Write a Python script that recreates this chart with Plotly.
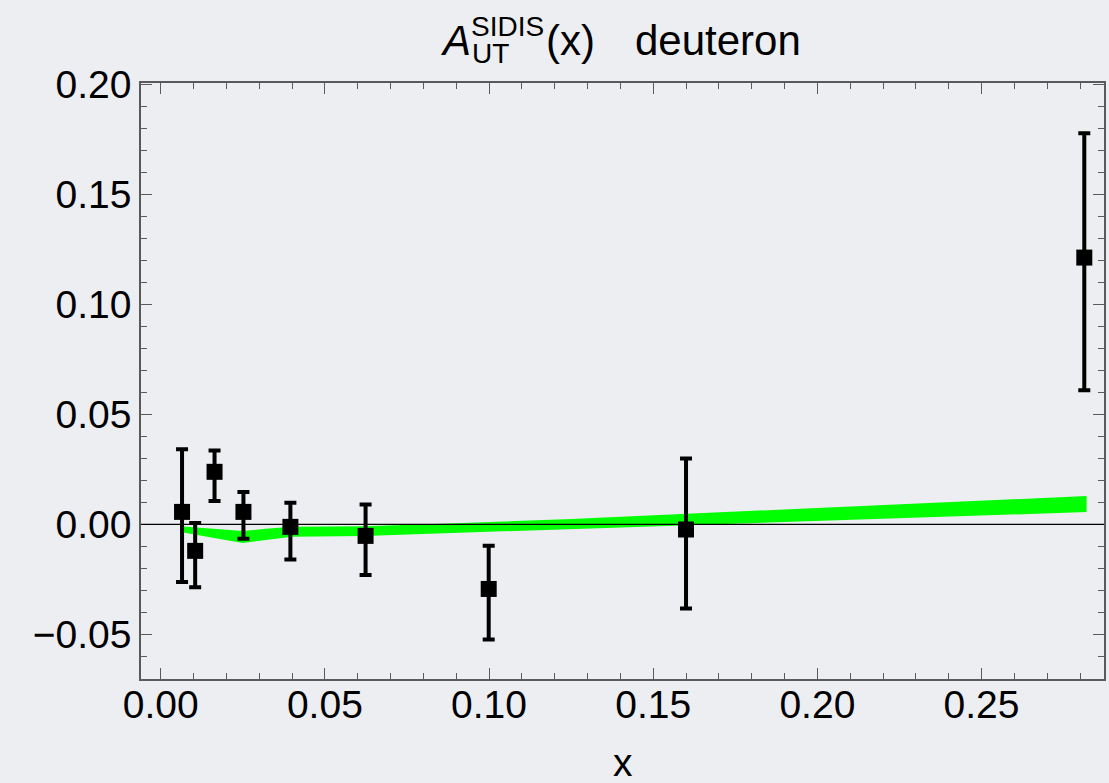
import plotly.graph_objects as go

# ---- data ----
x_data = [0.0065, 0.0105, 0.0164, 0.0252, 0.0395, 0.0624, 0.0999, 0.1600, 0.2813]
y_data = [0.0057, -0.0120, 0.0239, 0.0057, -0.0011, -0.0052, -0.0293, -0.0023, 0.1212]
y_top = [0.0341, 0.0006, 0.0336, 0.0147, 0.0098, 0.0091, -0.0097, 0.0300, 0.1777]
y_bot = [-0.0261, -0.0285, 0.0107, -0.0065, -0.0159, -0.0230, -0.0523, -0.0382, 0.0610]

band_x = [0.006, 0.012, 0.018, 0.025, 0.032, 0.040, 0.062, 0.090, 0.125, 0.160, 0.200, 0.240, 0.282]
band_hi = [-0.0008, -0.0015, -0.0022, -0.0030, -0.0020, -0.0011, -0.0008, 0.0005, 0.0025, 0.0048, 0.0075, 0.0102, 0.0129]
band_lo = [-0.0034, -0.0050, -0.0066, -0.0084, -0.0070, -0.0056, -0.0052, -0.0040, -0.0022, -0.0005, 0.0015, 0.0035, 0.0056]

x_range = [-0.006, 0.2873]
y_range = [-0.0702, 0.2005]

W, H = 1109, 783
L, R, T, B = 141, 3, 83, 104
BG = "#eceef1"
FONT = "Liberation Sans, Arial, Helvetica, sans-serif"
AX = "#5a5a5a"

err_plus = [t - y for t, y in zip(y_top, y_data)]
err_minus = [y - b for y, b in zip(y_data, y_bot)]

fig = go.Figure()

# green band
fig.add_trace(go.Scatter(
    x=band_x + band_x[::-1],
    y=band_hi + band_lo[::-1],
    fill="toself", fillcolor="#00ff00",
    line=dict(width=0, color="#00ff00"),
    mode="lines", hoverinfo="skip", showlegend=False,
))

# data points
fig.add_trace(go.Scatter(
    x=x_data, y=y_data, mode="markers",
    marker=dict(symbol="square", size=16, color="black"),
    error_y=dict(type="data", array=err_plus, arrayminus=err_minus,
                 color="black", thickness=4, width=6),
    showlegend=False,
))

# zero line above band
fig.add_shape(type="line", xref="x", yref="y", x0=x_range[0], x1=x_range[1], y0=0, y1=0,
              line=dict(color="black", width=1.3), layer="above")

axis_common = dict(
    showline=True, linecolor=AX, linewidth=1.5, mirror="ticks",
    ticks="inside", ticklen=11, tickwidth=1.3, tickcolor=AX,
    showgrid=False, zeroline=False,
    tickfont=dict(family=FONT, size=39, color="black"),
    tickformat=".2f",
)

fig.update_xaxes(range=x_range, dtick=0.05, tick0=0,
                 minor=dict(ticks="inside", ticklen=6, dtick=0.01, tickcolor=AX, tickwidth=1.2, showgrid=False),
                 ticklabelstandoff=-10, **axis_common)
fig.update_yaxes(range=y_range, dtick=0.05, tick0=0,
                 minor=dict(ticks="inside", ticklen=6, dtick=0.01, tickcolor=AX, tickwidth=1.2, showgrid=False),
                 ticklabelstandoff=0, **axis_common)

pw, ph = W - L - R, H - T - B


def px(xp):
    return (xp - L) / pw


def py(yp):
    return (H - B - yp) / ph


def ann(text, x, y, size, xanchor="left"):
    fig.add_annotation(text=text, xref="paper", yref="paper", x=px(x), y=py(y),
                       xanchor=xanchor, yanchor="middle", showarrow=False,
                       font=dict(family=FONT, size=size, color="black"), borderpad=0)


ann("<i>A</i>", 440, 40.3, 42)
ann("SIDIS", 471, 26.9, 28)
ann("UT", 472, 53.2, 28)
ann("(x)", 546, 40.3, 42)
ann("deuteron", 635, 40.3, 42)
ann("x", 624, 762, 39, xanchor="center")

fig.update_layout(
    width=W, height=H,
    margin=dict(l=L, r=R, t=T, b=B),
    paper_bgcolor=BG, plot_bgcolor=BG,
    font=dict(family=FONT, color="black"),
    showlegend=False,
)

fig.write_html("out.html")
